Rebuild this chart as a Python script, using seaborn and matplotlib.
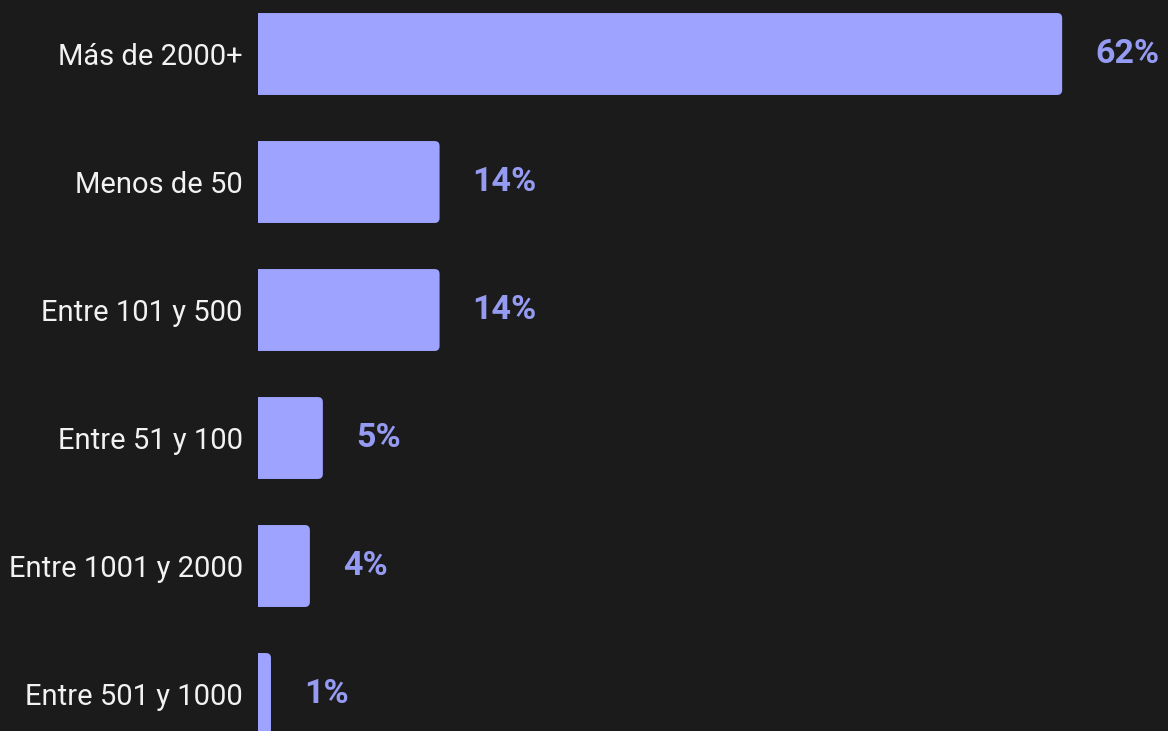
import matplotlib
matplotlib.use("Agg")
import matplotlib.pyplot as plt
from matplotlib.path import Path
from matplotlib.patches import PathPatch
import seaborn as sns
import pandas as pd

categories = ["Más de 2000+", "Menos de 50", "Entre 101 y 500",
              "Entre 51 y 100", "Entre 1001 y 2000", "Entre 501 y 1000"]
values = [62, 14, 14, 5, 4, 1]
value_labels = ["62%", "14%", "14%", "5%", "4%", "1%"]

BG = "#1b1b1b"
BAR = "#9ea3ff"
VAL = "#959bf2"

sns.set_theme(style="white")
plt.rcParams["font.family"] = ["Roboto", "DejaVu Sans"]

W, H = 1168, 731
fig = plt.figure(figsize=(W / 100, H / 100), dpi=100, facecolor=BG)
ax = fig.add_axes([258 / W, 0, 1 - 258 / W, 1])
ax.set_facecolor(BG)

df = pd.DataFrame({"cat": categories, "val": values})
sns.barplot(data=df, x="val", y="cat", orient="h", color=BAR,
            saturation=1, width=0.64, ax=ax)

px_per_unit = 12.97
ax.set_xlim(0, (W - 258) / px_per_unit)
ax.set_ylim((H - 54) / 128, -54 / 128)

# replace bars with versions rounded on the right side
rx = 5 / px_per_unit
ry = 5 / 128
for p in list(ax.patches):
    x0, y0 = p.get_x(), p.get_y()
    w, h = p.get_width(), p.get_height()
    x1, y1 = x0 + w, y0 + h
    r_x = min(rx, w / 2)
    verts = [(x0, y0), (x1 - r_x, y0), (x1, y0), (x1, y0 + ry),
             (x1, y1 - ry), (x1, y1), (x1 - r_x, y1), (x0, y1), (x0, y0)]
    codes = [Path.MOVETO, Path.LINETO, Path.CURVE3, Path.CURVE3,
             Path.LINETO, Path.CURVE3, Path.CURVE3, Path.LINETO, Path.CLOSEPOLY]
    ax.add_patch(PathPatch(Path(verts, codes), facecolor=BAR, edgecolor="none"))
    p.remove()

for i, (v, lab) in enumerate(zip(values, value_labels)):
    ax.text(v + 33 / px_per_unit, i, lab, color=VAL, fontsize=24.5,
            fontweight="bold", va="center", ha="left")

ax.set_xlabel("")
ax.set_ylabel("")
ax.set_xticks([])
ax.tick_params(axis="y", length=0, pad=11, labelsize=21, labelcolor="#f2f2f2")
for s in ax.spines.values():
    s.set_visible(False)

fig.savefig("out.png", dpi=100, facecolor=BG)
